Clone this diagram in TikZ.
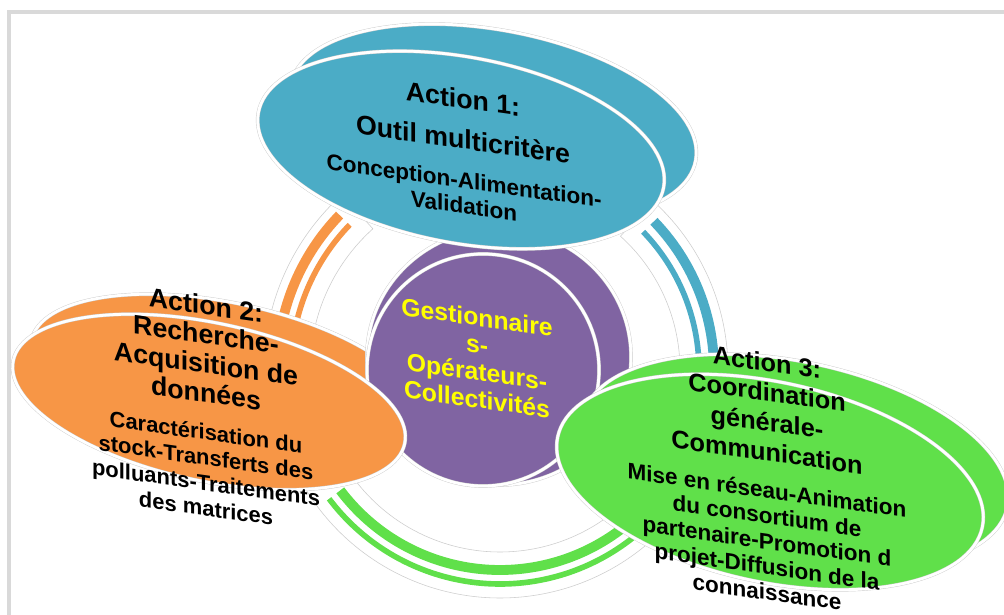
\documentclass[tikz,border=0pt]{standalone}
\usepackage{fontspec}
\setmainfont{Liberation Sans}
\usetikzlibrary{shapes.geometric}
\definecolor{FrameGray}{RGB}{217,217,217}
\definecolor{EdgeGray}{RGB}{205,205,205}
\definecolor{ActBlue}{RGB}{75,172,198}
\definecolor{ActOrange}{RGB}{247,150,70}
\definecolor{ActGreen}{RGB}{96,224,74}
\definecolor{ActPurple}{RGB}{128,100,162}
\definecolor{ActYellow}{RGB}{255,255,0}

\begin{document}
\begin{tikzpicture}[x=0.025cm,y=0.025cm,
  actdisc/.style={inner sep=0pt,draw=EdgeGray,double=white,double distance=2pt,line width=0.3pt},
  bandarea/.style={fill=white,draw=EdgeGray,line width=0.4pt},
  thickstripe/.style={line width=7pt},
  thinstripe/.style={line width=4pt},
  titletext/.style={align=center,yslant=-0.14,inner sep=0pt,font=\bfseries\fontsize{19}{20.8}\selectfont},
  desctext/.style={align=center,yslant=-0.14,inner sep=0pt,font=\bfseries\fontsize{16}{17.9}\selectfont}]
\useasboundingbox (0,0) rectangle (1004,615);
\fill[FrameGray] (7,0) rectangle (11,605);
\fill[FrameGray] (7,601) rectangle (1004,605);
\coordinate (ctr) at (500,245);
% ring pieces between the actions
\draw[bandarea] ([shift={(132:190)}]ctr) arc[start angle=132,end angle=180,radius=190] -- ([shift={(180:236)}]ctr) arc[start angle=180,end angle=132,radius=236] -- cycle;
\draw[ActOrange,thickstripe] ([shift={(136:223)}]ctr) arc[start angle=136,end angle=178,radius=223];
\draw[ActOrange,thinstripe] ([shift={(136:209)}]ctr) arc[start angle=136,end angle=178,radius=209];
\draw[bandarea] ([shift={(48:180)}]ctr) arc[start angle=48,end angle=-8,radius=180] -- ([shift={(-8:228)}]ctr) arc[start angle=-8,end angle=48,radius=228] -- cycle;
\draw[ActBlue,thickstripe] ([shift={(44:214)}]ctr) arc[start angle=44,end angle=-6,radius=214];
\draw[ActBlue,thinstripe] ([shift={(44:199)}]ctr) arc[start angle=44,end angle=-6,radius=199];
\draw[bandarea] ([shift={(212:182)}]ctr) arc[start angle=212,end angle=318,radius=182] -- ([shift={(318:228)}]ctr) arc[start angle=318,end angle=212,radius=228] -- cycle;
\draw[ActGreen,thickstripe] ([shift={(217:200)}]ctr) arc[start angle=217,end angle=315,radius=200];
\draw[ActGreen,thinstripe] ([shift={(217:214)}]ctr) arc[start angle=217,end angle=315,radius=214];
% discs
\node[actdisc,ellipse,fill=ActOrange,minimum width=10cm,minimum height=3.95cm,rotate=-12] (a2b) at (227,233) {};
\node[actdisc,ellipse,fill=ActPurple,minimum width=6.6cm,minimum height=6.4cm] (gestb) at (499,258) {};
\node[actdisc,circle,fill=ActPurple,minimum size=5.8cm] (gest) at (483,245) {};
\node[actdisc,ellipse,fill=ActOrange,minimum width=10cm,minimum height=3.95cm,rotate=-12] (a2) at (209,213) {};
\node[actdisc,ellipse,fill=ActBlue,minimum width=10.3cm,minimum height=4.65cm,rotate=-10.5] (a1b) at (493,492) {};
\node[actdisc,ellipse,fill=ActBlue,minimum width=10.3cm,minimum height=4.65cm,rotate=-10.5] (a1) at (461,465) {};
\node[actdisc,ellipse,fill=ActGreen,minimum width=10.85cm,minimum height=5cm,rotate=-12] (a3b) at (795,153) {};
\node[actdisc,ellipse,fill=ActGreen,minimum width=10.85cm,minimum height=5cm,rotate=-12] (a3) at (770,133) {};
% texts
\node[titletext] (a1t) at (463,496) {Action 1:\\[8pt]Outil multicritère};
\node[desctext] (a1d) at (464,422) {Conception-Alimentation-\\Validation};
\node[titletext] (a2t) at (206,266) {Action 2:\\Recherche-\\Acquisition de\\données};
\node[desctext,font=\bfseries\fontsize{15.6}{18}\selectfont] (a2d) at (206,145) {Caractérisation du\\stock-Transferts des\\polluants-Traitements\\des matrices};
\node[titletext,font=\bfseries\fontsize{18}{21.3}\selectfont] (a3t) at (767,208) {Action 3:\\Coordination\\générale-\\Communication};
\node[desctext,font=\bfseries\fontsize{16}{18.1}\selectfont] (a3d) at (767,74) {Mise en réseau-Animation\\du consortium de\\partenaire-Promotion d\\projet-Diffusion de la\\connaissance};
\node[titletext,text=ActYellow,font=\bfseries\fontsize{17.6}{19.4}\selectfont] (gestt) at (477,257) {Gestionnaire\\s-\\Opérateurs-\\Collectivités};
\end{tikzpicture}
\end{document}
